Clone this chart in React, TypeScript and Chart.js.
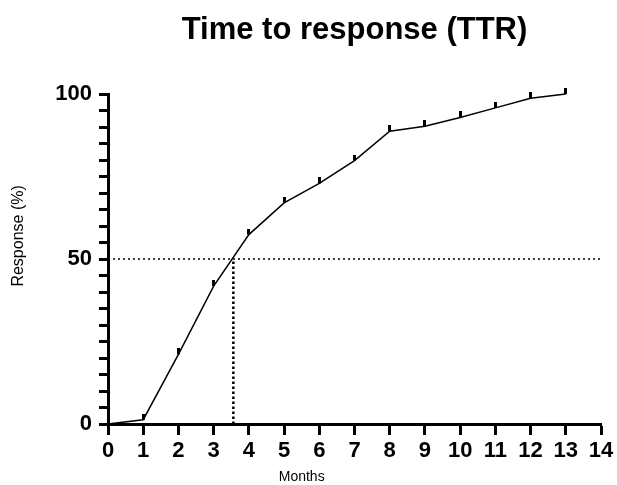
import React, { useEffect, useRef } from "react";
import { Chart, registerables } from "chart.js";

Chart.register(...registerables);

// ---- data ----
const months = [0, 1, 2, 3, 4, 5, 6, 7, 8, 9, 10, 11, 12, 13];
const responsePct = [0, 1.3, 21.1, 41.8, 57.4, 67.0, 72.9, 79.8, 88.7, 90.2, 92.9, 95.8, 98.7, 100];
const medianMonth = 3.56;
const medianLevel = 50;
const xMin = 0;
const xMax = 14;
const yMin = 0;
const yMax = 100;
const yLabelledTicks = [0, 50, 100];
const yMinorStep = 5;

const title = "Time to response (TTR)";
const xTitle = "Months";
const yTitle = "Response (%)";

const FONT = '"Liberation Sans", Arial, Helvetica, sans-serif';

export default function App() {
  const ref = useRef<HTMLCanvasElement | null>(null);

  useEffect(() => {
    if (!ref.current) return;

    const mark = document.createElement("canvas");
    mark.width = 3;
    mark.height = 12;
    const mctx = mark.getContext("2d")!;
    mctx.fillStyle = "#000";
    mctx.fillRect(0, 0, 3, 6);

    const textPlugin = {
      id: "texts",
      afterDraw(chart: any) {
        const { ctx, chartArea, scales } = chart;
        ctx.save();
        ctx.fillStyle = "#000";
        ctx.textAlign = "center";
        ctx.textBaseline = "alphabetic";
        ctx.font = `bold 31px ${FONT}`;
        ctx.fillText(title, (chartArea.left + chartArea.right) / 2, 39);
        ctx.font = `14px ${FONT}`;
        ctx.fillText(xTitle, scales.x.getPixelForValue(5.5), 481);
        ctx.translate(23, scales.y.getPixelForValue(57));
        ctx.rotate(-Math.PI / 2);
        ctx.font = `16px ${FONT}`;
        ctx.fillText(yTitle, 0, 0);
        ctx.restore();
      },
    };

    const chart = new Chart(ref.current, {
      type: "line",
      data: {
        datasets: [
          {
            data: months.map((m, i) => ({ x: m, y: responsePct[i] })),
            borderColor: "#000",
            borderWidth: 1.5,
            pointStyle: mark as any,
            pointRadius: (c: any) => (c.dataIndex === 0 ? 0 : 3),
            pointHoverRadius: 0,
            tension: 0,
            clip: false as any,
          },
          {
            data: [
              { x: xMin, y: medianLevel },
              { x: xMax, y: medianLevel },
            ],
            borderColor: "#000",
            borderWidth: 1.5,
            borderDash: [2, 3],
            pointRadius: 0,
          },
          {
            data: [
              { x: medianMonth, y: yMin },
              { x: medianMonth, y: medianLevel },
            ],
            borderColor: "#000",
            borderWidth: 2.5,
            borderDash: [2.5, 2.5],
            pointRadius: 0,
          },
        ],
      },
      options: {
        animation: false,
        responsive: false,
        maintainAspectRatio: false,
        layout: { padding: { left: 0, right: 16, top: 94, bottom: 0 } },
        plugins: {
          legend: { display: false },
          tooltip: { enabled: false },
          title: { display: false },
        },
        scales: {
          x: {
            type: "linear",
            min: xMin,
            max: xMax,
            afterFit: (s: any) => {
              s.height = 61;
            },
            ticks: {
              stepSize: 1,
              autoSkip: false,
              maxRotation: 0,
              color: "#000",
              padding: 3,
              font: { family: FONT, size: 22, weight: "bold" },
            },
            grid: {
              drawOnChartArea: false,
              drawTicks: true,
              tickLength: 11,
              tickWidth: 3,
              color: "#000",
            },
            border: { color: "#000", width: 3 },
          },
          y: {
            min: yMin,
            max: yMax,
            afterFit: (s: any) => {
              s.width = 108;
            },
            ticks: {
              stepSize: yMinorStep,
              autoSkip: false,
              color: "#000",
              padding: 7,
              font: { family: FONT, size: 22, weight: "bold" },
              callback: (v: any) => (yLabelledTicks.includes(Number(v)) ? String(v) : ""),
            },
            grid: {
              drawOnChartArea: false,
              drawTicks: true,
              tickLength: 9,
              tickWidth: 3,
              color: "#000",
            },
            border: { color: "#000", width: 3 },
          },
        },
      },
      plugins: [textPlugin],
    });

    return () => chart.destroy();
  }, []);

  return (
    <div style={{ position: "fixed", left: 0, top: 0, width: 617, height: 485, background: "#fff" }}>
      <canvas ref={ref} width={617} height={485} style={{ width: 617, height: 485 }} />
    </div>
  );
}
